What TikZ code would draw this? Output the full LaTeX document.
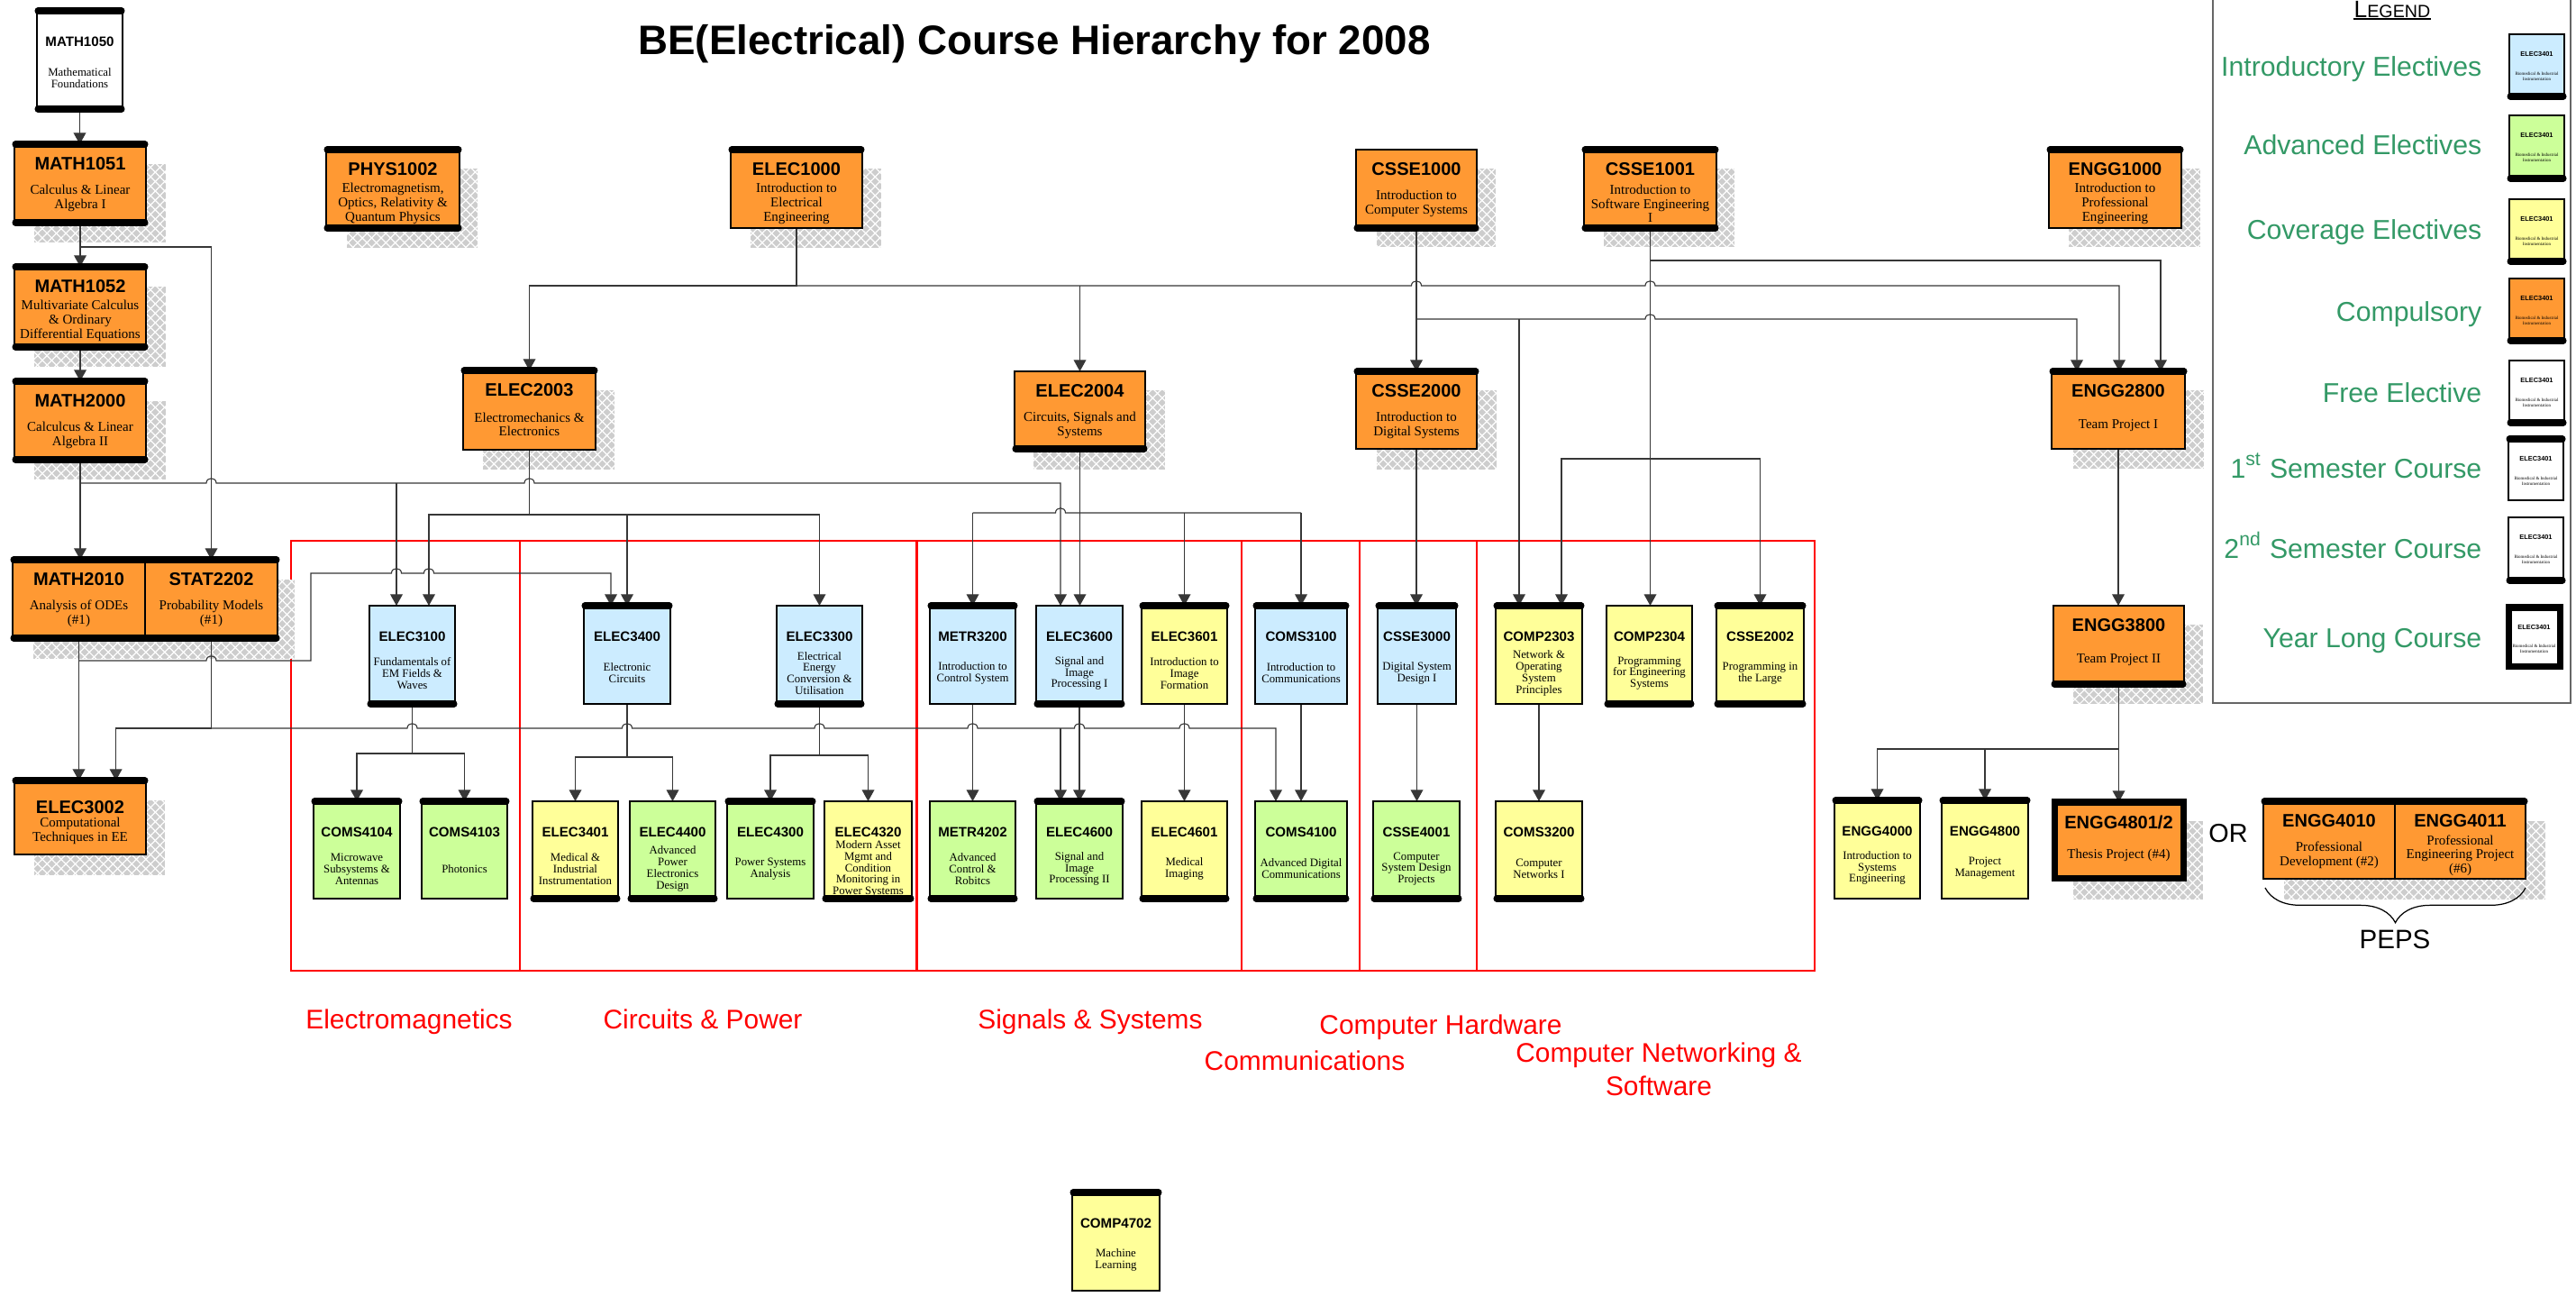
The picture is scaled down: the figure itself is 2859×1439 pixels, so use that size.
\documentclass[tikz,border=0pt]{standalone}
\usepackage{fontspec}
\setmainfont{Liberation Serif}
\setsansfont{Liberation Sans}
\usetikzlibrary{arrows.meta,patterns.meta,decorations.pathreplacing}
\pgfdeclarelayer{back}
\pgfdeclarelayer{mid}
\pgfsetlayers{back,mid,main}
\definecolor{corange}{RGB}{255,153,51}
\definecolor{cblue}{RGB}{204,236,255}
\definecolor{cgreen}{RGB}{204,255,153}
\definecolor{cyellow}{RGB}{255,255,153}
\definecolor{cleg}{RGB}{51,153,102}
\definecolor{cshd}{RGB}{205,205,205}
\definecolor{cline}{RGB}{55,55,55}
\tikzset{
  boxsty/.style={draw=black, line width=0.75pt, inner sep=0pt, outer sep=0pt, anchor=north west},
  barsty/.style={line width=2pt, line cap=round, draw=black},
  conn/.style={draw=cline, line width=0.32pt},
  arr/.style={conn, -{Triangle[length=3.6pt,width=3.9pt]}},
  hopat/.style args={#1/#2}{insert path={-- (#1-5.5,#2) .. controls (#1-5.5,#2-7) and (#1+5.5,#2-7) .. (#1+5.5,#2)}},
  ttl/.style={font=\sffamily\bfseries\fontsize{5.7pt}{6.5pt}\selectfont, inner sep=0pt},
  sttl/.style={font=\sffamily\bfseries\fontsize{4.3pt}{5pt}\selectfont, inner sep=0pt},
  dsc/.style={font=\rmfamily\fontsize{4.27pt}{4.45pt}\selectfont, align=center, inner sep=0pt},
  sdsc/.style={font=\rmfamily\fontsize{3.64pt}{3.65pt}\selectfont, align=center, inner sep=0pt},
  region/.style={font=\sffamily\fontsize{8.5pt}{10.5pt}\selectfont, text=red, align=center, inner sep=0pt},
  legtxt/.style={font=\sffamily\fontsize{8.6pt}{10pt}\selectfont, text=cleg, anchor=base east, inner sep=0pt},
  redbox/.style={draw=red, line width=0.6pt},
}
\newcommand\crs[7]{%
  \node[boxsty, fill=#6, minimum width={(#4-#2)*0.01cm}, minimum height={(#5-#3)*0.01cm}] (#1) at (#2,#3) {};
  \ifnum#7=1 \draw[barsty] (#2+1,#3) -- (#4-1,#3);\fi
  \ifnum#7=2 \draw[barsty] (#2+1,#5) -- (#4-1,#5);\fi
  \ifnum#7=3 \draw[barsty] (#2+1,#3) -- (#4-1,#3); \draw[barsty] (#2+1,#5) -- (#4-1,#5);\fi
}
\newcommand\bigc[9]{%
  \crs{#1}{#2}{#3}{#4}{#5}{#6}{#7}
  \node[ttl] (#1-t) at ({(#2+#4)/2},{#3+22}) {#8};
  \node[dsc] (#1-d) at ({(#2+#4)/2},{#3+60}) {#9};
}
\newcommand\smallc[9]{%
  \crs{#1}{#2}{#3}{#4}{#5}{#6}{#7}
  \node[sttl] (#1-t) at ({(#2+#4)/2},{#3+34}) {#8};
  \node[sdsc] (#1-d) at ({(#2+#4)/2},{#3+75}) {#9};
}
\newcommand\legc[7]{%
  \crs{#1}{#2}{#3}{#4}{#5}{#6}{#7}
  \node[font=\sffamily\bfseries\fontsize{2.1pt}{2.5pt}\selectfont, inner sep=0pt] (#1-t) at ({(#2+#4)/2},{#3+22}) {ELEC3401};
  \node[font=\rmfamily\fontsize{1.4pt}{1.6pt}\selectfont, align=center, inner sep=0pt] (#1-d) at ({(#2+#4)/2},{#3+47}) {Biomedical \& Industrial\\Instrumentation};
}
\newcommand\shd[4]{%
  \fill[cshd] (#1,#2) rectangle (#3,#4);
  \fill[pattern={Lines[angle=45,distance=2.1pt,line width=0.35pt]}, pattern color=white] (#1,#2) rectangle (#3,#4);
  \fill[pattern={Lines[angle=-45,distance=2.1pt,line width=0.35pt]}, pattern color=white] (#1,#2) rectangle (#3,#4);
}
\begin{document}
\begin{tikzpicture}[x=0.01cm,y=-0.01cm]
\useasboundingbox (0,0) rectangle (2859,1439);

% ---------- background: regions and shadows ----------
\begin{pgfonlayer}{back}
\fill[white] (0,0) rectangle (2859,1439);
\draw[redbox] (323,600) rectangle (577,1077);
\draw[redbox] (577,600) rectangle (1017,1077);
\draw[redbox] (1018,600) rectangle (1378,1077);
\draw[redbox] (1378,600) rectangle (1509,1077);
\draw[redbox] (1509,600) rectangle (1639,1077);
\draw[redbox] (1639,600) rectangle (2014,1077);
\shd{38}{182}{184}{269}
\shd{38}{318}{184}{407}
\shd{38}{445}{184}{532}
\shd{385}{187}{530}{275}
\shd{833}{187}{978}{275}
\shd{1528}{187}{1660}{274}
\shd{1780}{187}{1925}{274}
\shd{2296}{187}{2442}{274}
\shd{536}{433}{682}{521}
\shd{1147}{433}{1293}{521}
\shd{1528}{433}{1661}{521}
\shd{2301}{433}{2446}{520}
\shd{37}{643}{327}{731}
\shd{38}{888}{183}{971}
\shd{2301}{693}{2445}{781}
\shd{2301}{911}{2445}{998}
\shd{2535}{911}{2825}{998}
\end{pgfonlayer}

% ---------- title ----------
\node[font=\sffamily\bfseries\fontsize{13pt}{15pt}\selectfont, inner sep=0pt] (title) at (1148,49) {BE(Electrical) Course Hierarchy for 2008};

% ---------- compulsory (big) ----------
\bigc{m1051}{16}{160}{162}{247}{corange}{3}{MATH1051}{Calculus \& Linear\\Algebra I}
\bigc{m1052}{16}{296}{162}{385}{corange}{3}{MATH1052}{Multivariate Calculus\\\& Ordinary\\Differential Equations}
\bigc{m2000}{16}{423}{162}{510}{corange}{3}{MATH2000}{Calculcus \& Linear\\Algebra II}
\bigc{phys}{362}{166}{510}{253}{corange}{3}{PHYS1002}{Electromagnetism,\\Optics, Relativity \&\\Quantum Physics}
\bigc{e1000}{811}{166}{957}{253}{corange}{1}{ELEC1000}{Introduction to\\Electrical\\Engineering}
\bigc{c1000}{1505}{166}{1639}{253}{corange}{2}{CSSE1000}{Introduction to\\Computer Systems}
\bigc{c1001}{1758}{166}{1905}{253}{corange}{3}{CSSE1001}{Introduction to\\Software Engineering\\I}
\bigc{g1000}{2274}{166}{2421}{253}{corange}{1}{ENGG1000}{Introduction to\\Professional\\Engineering}
\bigc{e2003}{514}{411}{661}{499}{corange}{1}{ELEC2003}{Electromechanics \&\\Electronics}
\bigc{e2004}{1126}{412}{1271}{498}{corange}{2}{ELEC2004}{Circuits, Signals and\\Systems}
\bigc{c2000}{1505}{412}{1639}{498}{corange}{1}{CSSE2000}{Introduction to\\Digital Systems}
\bigc{g2800}{2277}{412}{2425}{498}{corange}{1}{ENGG2800}{Team Project I}
\bigc{m2010}{14}{621}{161}{708}{corange}{0}{MATH2010}{Analysis of ODEs\\(\#1)}
\bigc{stat}{161}{621}{308}{708}{corange}{0}{STAT2202}{Probability Models\\(\#1)}
\draw[barsty] (15,621) -- (307,621);
\draw[barsty] (15,708) -- (307,708);
\crs{e3002}{16}{866}{162}{948}{corange}{1}
\node[ttl] (e3002-t) at (89,896) {ELEC3002};
\node[dsc] (e3002-d) at (89,922) {Computational\\Techniques in EE};
\bigc{g3800}{2279}{672}{2424}{759}{corange}{2}{ENGG3800}{Team Project II}
\node[boxsty, line width=2pt, fill=corange, minimum width=1.43cm, minimum height=0.84cm] (g4801) at (2280,890) {};
\node[ttl] (g4801-t) at (2351.5,912) {ENGG4801/2};
\node[dsc] (g4801-d) at (2351.5,949) {Thesis Project (\#4)};
\bigc{g4010}{2512}{889}{2658}{975}{corange}{0}{ENGG4010}{Professional\\Development (\#2)}
\bigc{g4011}{2658}{889}{2803}{975}{corange}{0}{ENGG4011}{Professional\\Engineering Project\\(\#6)}
\draw[barsty] (2513,889) -- (2802,889);

% ---------- small boxes ----------
\smallc{m1050}{41}{12}{136}{121}{white}{3}{MATH1050}{Mathematical\\Foundations}
\smallc{e3100}{410}{672}{505}{781}{cblue}{2}{ELEC3100}{Fundamentals of\\EM Fields \&\\Waves}
\smallc{e3400}{648}{672}{744}{781}{cblue}{1}{ELEC3400}{Electronic\\Circuits}
\smallc{e3300}{862}{672}{957}{781}{cblue}{2}{ELEC3300}{Electrical\\Energy\\Conversion \&\\Utilisation}
\smallc{t3200}{1032}{672}{1127}{781}{cblue}{1}{METR3200}{Introduction to\\Control System}
\smallc{e3600}{1150}{672}{1246}{781}{cblue}{2}{ELEC3600}{Signal and\\Image\\Processing I}
\smallc{e3601}{1267}{672}{1362}{781}{cyellow}{1}{ELEC3601}{Introduction to\\Image\\Formation}
\smallc{s3100}{1393}{672}{1495}{781}{cblue}{1}{COMS3100}{Introduction to\\Communications}
\smallc{c3000}{1529}{672}{1616}{781}{cblue}{1}{CSSE3000}{Digital System\\Design I}
\smallc{p2303}{1660}{672}{1756}{781}{cyellow}{1}{COMP2303}{Network \&\\Operating\\System\\Principles}
\smallc{p2304}{1783}{672}{1878}{781}{cyellow}{2}{COMP2304}{Programming\\for Engineering\\Systems}
\smallc{c2002}{1905}{672}{2002}{781}{cyellow}{3}{CSSE2002}{Programming in\\the Large}
\smallc{s4104}{348}{889}{444}{997}{cgreen}{1}{COMS4104}{Microwave\\Subsystems \&\\Antennas}
\smallc{s4103}{468}{889}{563}{997}{cgreen}{1}{COMS4103}{Photonics}
\smallc{e3401}{591}{889}{686}{997}{cyellow}{2}{ELEC3401}{Medical \&\\Industrial\\Instrumentation}
\smallc{e4400}{699}{889}{794}{997}{cgreen}{2}{ELEC4400}{Advanced\\Power\\Electronics\\Design}
\smallc{e4300}{807}{889}{903}{997}{cgreen}{1}{ELEC4300}{Power Systems\\Analysis}
\smallc{e4320}{915}{889}{1012}{997}{cyellow}{2}{ELEC4320}{Modern Asset\\Mgmt and\\Condition\\Monitoring in\\Power Systems}
\smallc{t4202}{1032}{889}{1127}{997}{cgreen}{2}{METR4202}{Advanced\\Control \&\\Robitcs}
\smallc{e4600}{1150}{889}{1246}{997}{cgreen}{1}{ELEC4600}{Signal and\\Image\\Processing II}
\smallc{e4601}{1267}{889}{1362}{997}{cyellow}{2}{ELEC4601}{Medical\\Imaging}
\smallc{s4100}{1393}{889}{1495}{997}{cgreen}{2}{COMS4100}{Advanced Digital\\Communications}
\smallc{c4001}{1524}{889}{1620}{997}{cgreen}{2}{CSSE4001}{Computer\\System Design\\Projects}
\smallc{s3200}{1660}{889}{1756}{997}{cyellow}{2}{COMS3200}{Computer\\Networks I}
\smallc{g4000}{2036}{888}{2131}{997}{cyellow}{1}{ENGG4000}{Introduction to\\Systems\\Engineering}
\smallc{g4800}{2155}{888}{2251}{997}{cyellow}{1}{ENGG4800}{Project\\Management}
\smallc{p4702}{1190}{1323}{1287}{1432}{cyellow}{1}{COMP4702}{Machine\\Learning}

% ---------- connectors ----------
\begin{pgfonlayer}{mid}
\draw[arr] (m1050.south) -- (m1050.south |- m1051.north);
\draw[arr] (m1051.south) -- (m1052.north);
\draw[arr] (m1051.south) |- (234.5,274) -- (stat.north);
\draw[arr] (m1052.south) -- (m2000.north);
\draw[arr] (m2000.south) -- (m2000.south |- m2010.north);
\draw[arr] (m2000.south |- 0,536) [hopat=234.5/536] [hopat=587.5/536] -- (1177,536) -- (1177,0 |- e3600.north);
\draw[arr] (440,536) -- (440,0 |- e3100.north);
\draw[arr] (m2010.south) -- (m2010.south |- e3002.north);
\draw[arr] (m2010.south |- 0,733) [hopat=234.5/733] -- (345,733) -- (345,636) [hopat=440/636] [hopat=476/636] -- (678,636) -- (678,0 |- e3400.north);
\draw[arr] (stat.south) |- (128.6,808) -- (128.6,0 |- e3002.north);
\draw[arr] (stat.south |- 0,808) [hopat=457.5/808] [hopat=696/808] [hopat=909.5/808] [hopat=1079.5/808] [hopat=1198/808] [hopat=1314.5/808] -- (1416,808) -- (1416,0 |- s4100.north);
\draw[arr] (1177,808) -- (1177,0 |- e4600.north);
\draw[arr] (e1000.south) |- (e2003.north |- 0,317) -- (e2003.north);
\draw[arr] (e1000.south |- 0,317) [hopat=1572/317] [hopat=1831.5/317] -- (2352,317) -- (2352,0 |- g2800.north);
\draw[arr] (e2004.north |- 0,317) -- (e2004.north);
\draw[arr] (e2003.south) |- (476,571) -- (476,0 |- e3100.north);
\draw[arr] (e2003.south |- 0,571) -| (e3300.north);
\draw[arr] (e3400.north |- 0,571) -- (e3400.north);
\draw[arr] (e2004.south) -- (e2004.south |- e3600.north);
\draw[conn] (t3200.north |- 0,569) [hopat=1177/569] -- (s3100.north |- 0,569);
\draw[arr] (t3200.north |- 0,569) -- (t3200.north);
\draw[arr] (e3601.north |- 0,569) -- (e3601.north);
\draw[arr] (s3100.north |- 0,569) -- (s3100.north);
\draw[arr] (e3100.south) |- (s4104.north |- 0,836) -- (s4104.north);
\draw[arr] (e3100.south |- 0,836) -| (s4103.north);
\draw[arr] (e3400.south) |- (e3401.north |- 0,840) -- (e3401.north);
\draw[arr] (e3400.south |- 0,840) -| (e4400.north);
\draw[arr] (e3300.south) |- (e4300.north |- 0,838) -- (e4300.north);
\draw[arr] (e3300.south |- 0,838) -| (e4320.north);
\draw[arr] (t3200.south) -- (t4202.north);
\draw[arr] (e3600.south) -- (e4600.north);
\draw[arr] (e3601.south) -- (e4601.north);
\draw[arr] (s3100.south) -- (s4100.north);
\draw[arr] (c3000.south) -- (c3000.south |- c4001.north);
\draw[arr] (c1000.south) -- (c2000.north);
\draw[arr] (c1000.south |- 0,354) [hopat=1831.5/354] -- (2305,354) -- (2305,0 |- g2800.north);
\draw[arr] (1686,354) -- (1686,0 |- p2303.north);
\draw[arr] (c1001.south) |- (2398,289) -- (2398,0 |- g2800.north);
\draw[arr] (c1001.south) -- (c1001.south |- p2304.north);
\draw[arr] (c1001.south |- 0,509) -| (c2002.north);
\draw[arr] (c1001.south |- 0,509) -| (1733,0 |- p2303.north);
\draw[arr] (c2000.south) -- (c2000.south |- c3000.north);
\draw[arr] (p2303.south) -- (s3200.north);
\draw[arr] (g2800.south) -- (g2800.south |- g3800.north);
\draw[arr] (g3800.south) -- (g3800.south |- g4801.north);
\draw[arr] (g3800.south |- 0,831) -| (g4000.north);
\draw[arr] (g4800.north |- 0,831) -- (g4800.north);
\end{pgfonlayer}

% ---------- region labels ----------
\node[region, anchor=base] (lab1) at (454,1141) {Electromagnetics};
\node[region, anchor=base] (lab2) at (780,1141) {Circuits \& Power};
\node[region, anchor=base] (lab3) at (1210,1141) {Signals \& Systems};
\node[region, anchor=base] (lab4) at (1599,1147) {Computer Hardware};
\node[region, anchor=base] (lab5) at (1448,1187) {Communications};
\node[region] (lab6) at (1841,1186) {Computer Networking \&\\Software};

% ---------- OR / PEPS ----------
\node[font=\sffamily\fontsize{8.2pt}{9pt}\selectfont, inner sep=0pt] (ortext) at (2473,925) {OR};
\draw[decorate, decoration={brace, mirror, amplitude=11pt}, line width=0.35pt] (2514,985) -- (2803,985);
\node[font=\sffamily\fontsize{8.4pt}{9pt}\selectfont, inner sep=0pt] (peps) at (2658,1042) {PEPS};

% ---------- legend ----------
\draw[draw=black!60, line width=0.45pt] (2456,-5) -- (2456,780) -- (2853,780) -- (2853,-5);
\node[anchor=base, inner sep=0pt, font=\sffamily] (leghd) at (2655,19) {\fontsize{7.5pt}{8pt}\selectfont L\fontsize{5.6pt}{6pt}\selectfont EGEND};
\draw[line width=0.35pt] ([yshift=-0.6pt]leghd.base west) -- ([yshift=-0.6pt]leghd.base east);
\node[legtxt] (lg1) at (2755,84) {Introductory Electives};
\node[legtxt] (lg2) at (2755,171) {Advanced Electives};
\node[legtxt] (lg3) at (2755,265) {Coverage Electives};
\node[legtxt] (lg4) at (2755,356) {Compulsory};
\node[legtxt] (lg5) at (2755,446) {Free Elective};
\node[legtxt] (lg6) at (2755,530) {1\textsuperscript{st} Semester Course};
\node[legtxt] (lg7) at (2755,619) {2\textsuperscript{nd} Semester Course};
\node[legtxt] (lg8) at (2755,718) {Year Long Course};
\legc{lb1}{2785}{38}{2846}{107}{cblue}{2}
\legc{lb2}{2785}{128}{2846}{198}{cgreen}{2}
\legc{lb3}{2785}{221}{2846}{290}{cyellow}{2}
\legc{lb4}{2785}{309}{2846}{378}{corange}{2}
\legc{lb5}{2785}{400}{2846}{469}{white}{2}
\legc{lb6}{2784}{487}{2845}{555}{white}{1}
\legc{lb7}{2784}{574}{2845}{644}{white}{2}
\node[boxsty, line width=2pt, fill=white, minimum width=0.57cm, minimum height=0.65cm] (lb8) at (2784,674) {};
\node[font=\sffamily\bfseries\fontsize{2.1pt}{2.5pt}\selectfont, inner sep=0pt] (lb8-t) at (2812.5,696) {ELEC3401};
\node[font=\rmfamily\fontsize{1.4pt}{1.6pt}\selectfont, align=center, inner sep=0pt] (lb8-d) at (2812.5,720) {Biomedical \& Industrial\\Instrumentation};
\end{tikzpicture}
\end{document}
